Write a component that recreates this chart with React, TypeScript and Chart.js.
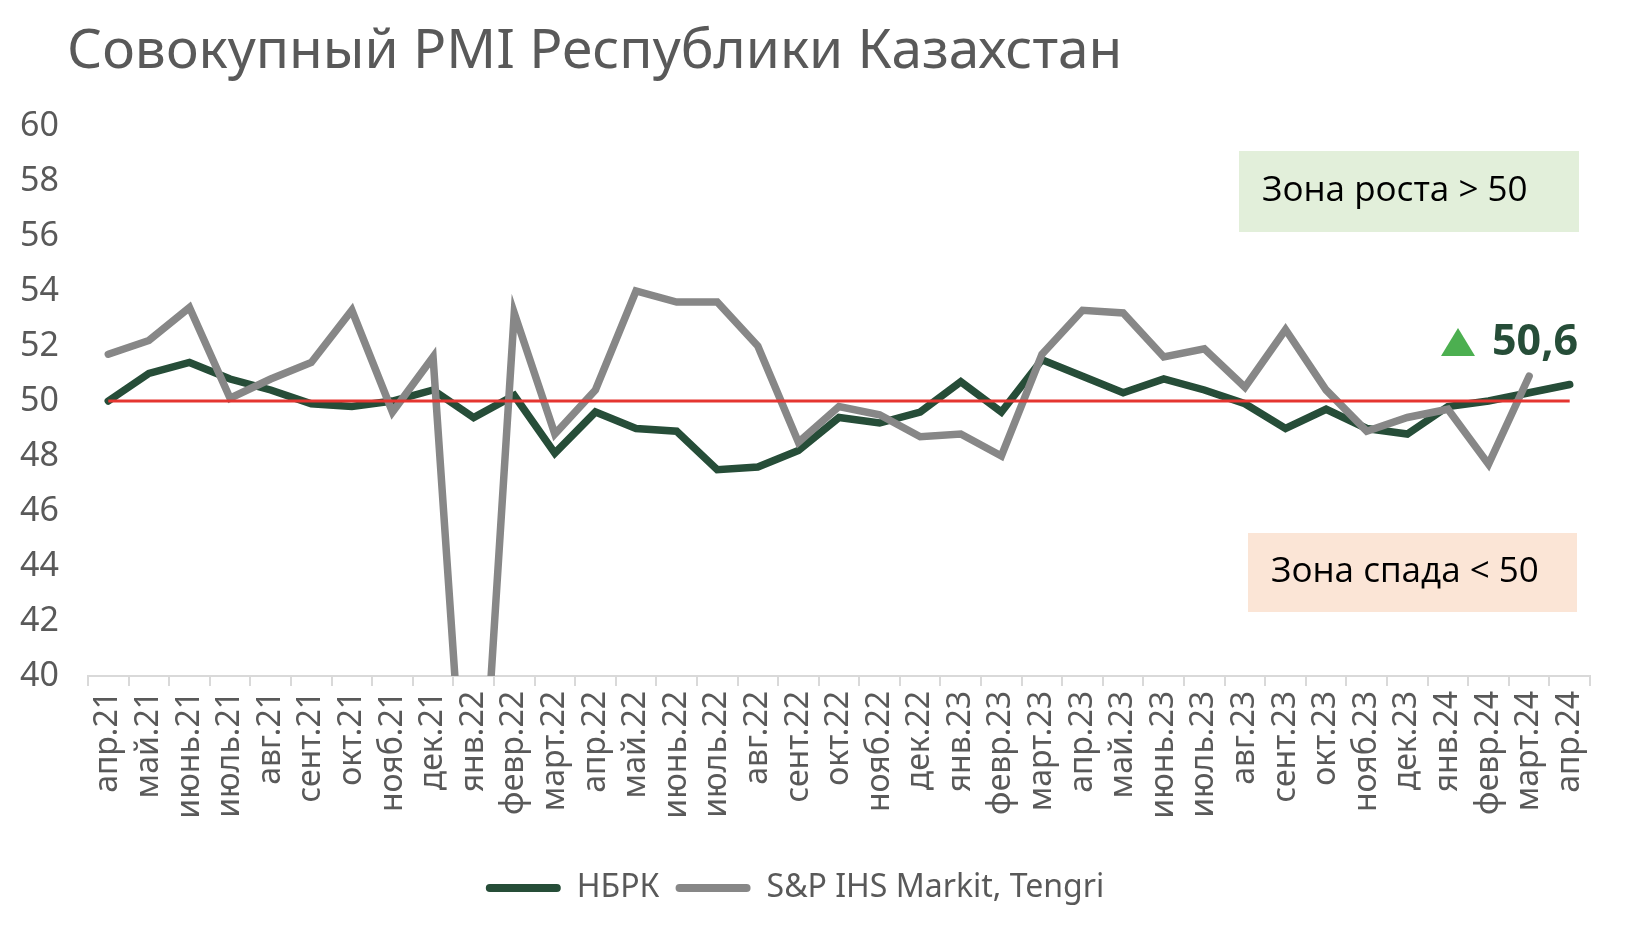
import { useEffect, useRef } from "react";
import { Chart, registerables } from "chart.js";

Chart.register(...registerables);

const TITLE = "Совокупный PMI Республики Казахстан";

const categories = [
  "апр.21", "май.21", "июнь.21", "июль.21", "авг.21", "сент.21", "окт.21", "нояб.21", "дек.21",
  "янв.22", "февр.22", "март.22", "апр.22", "май.22", "июнь.22", "июль.22", "авг.22", "сент.22",
  "окт.22", "нояб.22", "дек.22", "янв.23", "февр.23", "март.23", "апр.23", "май.23", "июнь.23",
  "июль.23", "авг.23", "сент.23", "окт.23", "нояб.23", "дек.23", "янв.24", "февр.24", "март.24", "апр.24",
];

const nbrkValues = [
  50.0, 51.0, 51.4, 50.8, 50.4, 49.9, 49.8, 50.0, 50.4,
  49.4, 50.2, 48.1, 49.6, 49.0, 48.9, 47.5, 47.6, 48.2,
  49.4, 49.2, 49.6, 50.7, 49.6, 51.5, 50.9, 50.3, 50.8,
  50.4, 49.9, 49.0, 49.7, 49.0, 48.8, 49.8, 50.0, 50.3, 50.6,
];

const spValues: (number | null)[] = [
  51.7, 52.2, 53.4, 50.1, 50.8, 51.4, 53.3, 49.6, 51.6,
  30.0, 53.2, 48.8, 50.4, 54.0, 53.6, 53.6, 52.0, 48.5,
  49.8, 49.5, 48.7, 48.8, 48.0, 51.7, 53.3, 53.2, 51.6,
  51.9, 50.5, 52.6, 50.4, 48.9, 49.4, 49.7, 47.7, 50.9, null,
];

const seriesNames = ["НБРК", "S&P IHS Markit, Tengri"];
const yTickValues = [40, 42, 44, 46, 48, 50, 52, 54, 56, 58, 60];
const THRESHOLD = 50;
const thresholdValues = categories.map(() => THRESHOLD);

const growthZoneText = "Зона роста > 50";
const declineZoneText = "Зона спада < 50";

const W = 1630;
const H = 935;
const AXIS_FONT = '"Noto Sans", sans-serif';
const TEXT_GREY = "#595959";
const DARK_GREEN = "#264d38";
const GREY = "#878787";

export default function App() {
  const ref = useRef<HTMLCanvasElement>(null);

  useEffect(() => {
    const canvas = ref.current;
    if (!canvas) return;

    const overlay = {
      id: "overlay",
      afterDraw(chart: any) {
        const ctx = chart.ctx;
        ctx.save();
        // Title
        ctx.fillStyle = TEXT_GREY;
        ctx.font = `55px ${AXIS_FONT}`;
        ctx.textAlign = "left";
        ctx.textBaseline = "alphabetic";
        ctx.fillText(TITLE, 67, 68);

        // Growth zone box
        ctx.fillStyle = "#e2efda";
        ctx.fillRect(1239, 151, 340, 81);
        ctx.fillStyle = "#000000";
        ctx.font = `35px "Open Sans", sans-serif`;
        ctx.textBaseline = "middle";
        ctx.fillText(growthZoneText, 1262, 191);

        // Decline zone box
        ctx.fillStyle = "#fbe5d6";
        ctx.fillRect(1248, 533, 329, 79);
        ctx.fillStyle = "#000000";
        ctx.fillText(declineZoneText, 1271, 572);

        // Last value marker
        const last = nbrkValues[nbrkValues.length - 1];
        ctx.fillStyle = "#4caf50";
        ctx.beginPath();
        ctx.moveTo(1441, 356);
        ctx.lineTo(1475, 356);
        ctx.lineTo(1458, 328);
        ctx.closePath();
        ctx.fill();
        ctx.fillStyle = DARK_GREEN;
        ctx.font = `bold 43px ${AXIS_FONT}`;
        ctx.textAlign = "right";
        ctx.fillText(last.toFixed(1).replace(".", ","), 1578, 343);
        ctx.restore();
      },
    };

    const chart = new Chart(canvas, {
      type: "line",
      data: {
        labels: categories,
        datasets: [
          {
            label: seriesNames[0],
            data: nbrkValues,
            borderColor: DARK_GREEN,
            backgroundColor: DARK_GREEN,
            borderWidth: 7.5,
            pointRadius: 0,
            borderCapStyle: "round",
            tension: 0,
            order: 2,
          },
          {
            label: seriesNames[1],
            data: spValues,
            borderColor: GREY,
            backgroundColor: GREY,
            borderWidth: 7.5,
            pointRadius: 0,
            borderCapStyle: "round",
            tension: 0,
            order: 1,
            clip: 0,
          },
          {
            label: "threshold",
            data: thresholdValues,
            borderColor: "#e53530",
            backgroundColor: "#e53530",
            borderWidth: 3,
            pointRadius: 0,
            order: 0,
          },
        ],
      } as any,
      options: {
        responsive: false,
        animation: false,
        devicePixelRatio: 1,
        layout: { padding: { top: 126, right: 40, left: 0, bottom: 21 } },
        plugins: {
          title: { display: false },
          tooltip: { enabled: false },
          legend: {
            display: true,
            position: "bottom",
            labels: {
              boxWidth: 75,
              boxHeight: 8,
              padding: 16,
              color: TEXT_GREY,
              font: { family: AXIS_FONT, size: 32 },
              useBorderRadius: true,
              borderRadius: 4,
              filter: (item: any) => item.datasetIndex < 2,
              sort: (a: any, b: any) => a.datasetIndex - b.datasetIndex,
              generateLabels: (c: any) => {
                const items = Chart.defaults.plugins.legend.labels.generateLabels(c);
                return items.map((it: any) => ({
                  ...it,
                  lineWidth: 0,
                  fillStyle: it.strokeStyle,
                }));
              },
            },
          },
        },
        scales: {
          x: {
            type: "category",
            offset: true,
            afterFit: (s: any) => {
              s.height = 180;
            },
            grid: {
              display: true,
              drawOnChartArea: false,
              drawTicks: true,
              tickLength: 10,
              offset: true,
              color: "#d9d9d9",
              lineWidth: 2,
            },
            border: { display: true, color: "#d9d9d9", width: 2 },
            ticks: {
              autoSkip: false,
              minRotation: 90,
              maxRotation: 90,
              padding: 5,
              color: TEXT_GREY,
              font: { family: AXIS_FONT, size: 32 },
            },
          },
          y: {
            min: 40,
            max: 60,
            afterBuildTicks: (s: any) => {
              s.ticks = yTickValues.map((v) => ({ value: v }));
            },
            afterFit: (s: any) => {
              s.width = 88;
            },
            grid: { display: false, drawTicks: false },
            border: { display: false },
            ticks: {
              padding: 29,
              color: TEXT_GREY,
              font: { family: AXIS_FONT, size: 34 },
            },
          },
        },
      } as any,
      plugins: [overlay],
    });

    return () => chart.destroy();
  }, []);

  return (
    <div style={{ position: "fixed", left: 0, top: 0, width: W, height: H, background: "#ffffff" }}>
      <canvas ref={ref} width={W} height={H} style={{ width: W, height: H, display: "block" }} />
    </div>
  );
}
